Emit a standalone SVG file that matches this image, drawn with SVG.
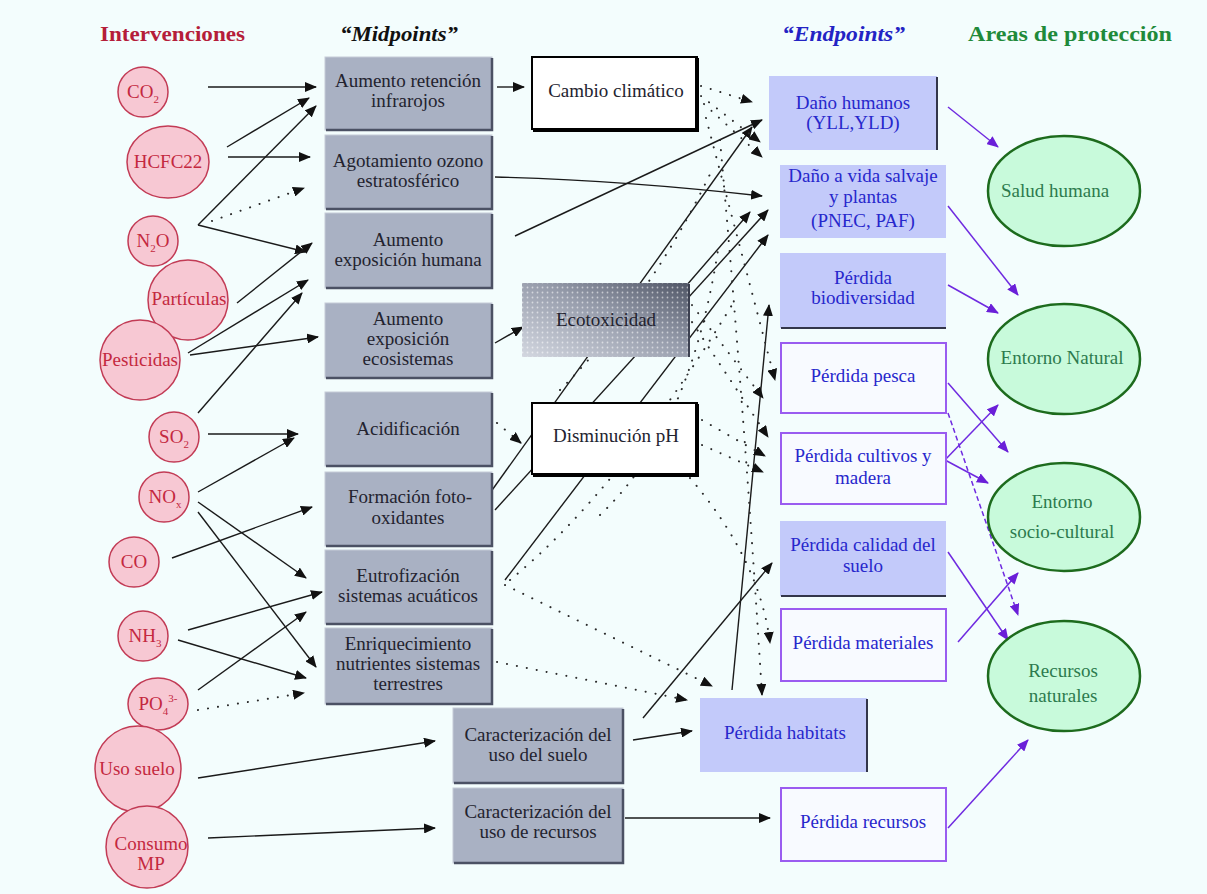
<svg xmlns="http://www.w3.org/2000/svg" width="1207" height="894" viewBox="0 0 1207 894">
<style>
  .hdr { font-family: "Liberation Serif", serif; font-weight: bold; font-size: 20px; }
  .t { font-family: "Liberation Serif", "Times New Roman", serif; font-size: 19px; text-anchor: middle; }
  .mid { fill: #23232f; }
  .end { fill: #2727cc; }
  .inp { fill: #c4283f; }
  .area { fill: #2d7a4e; }
  .sub { font-size: 11px; }
  .circ { fill: #f7c8d3; stroke: #c23b55; stroke-width: 1.5; }
  .mbox { fill: #a9b1c3; stroke: #c6ccd8; stroke-width: 1; }
  .shadow { fill: none; stroke: #4b5164; stroke-width: 2.5; }
  .wbox { fill: #ffffff; stroke: #000; stroke-width: 2; }
  .wshadow { fill: none; stroke: #000; stroke-width: 4; }
  .lav { fill: #c3cafa; }
  .pbox { fill: #f8faff; stroke: #9a5cf0; stroke-width: 2; }
  .edge { fill: none; stroke: #33364a; stroke-width: 2; }
  .ell { fill: #c8fadb; stroke: #1d6b1d; stroke-width: 2.5; }
  .c { fill: none; stroke: #1a1a1a; stroke-width: 1.4; marker-end: url(#ah); }
  .d { fill: none; stroke: #2a2a2a; stroke-width: 2; stroke-dasharray: 0.1 10; stroke-linecap: round; marker-end: url(#ah); }
  .dn { fill: none; stroke: #2a2a2a; stroke-width: 2; stroke-dasharray: 0.1 10; stroke-linecap: round; }
  .p { fill: none; stroke: #6f2ae0; stroke-width: 1.5; marker-end: url(#ap); }
  .pd { fill: none; stroke: #6f2ae0; stroke-width: 1.5; stroke-dasharray: 5 3; marker-end: url(#ap); }
</style>
<defs>
  <marker id="ah" viewBox="0 0 12 10" refX="11" refY="5" markerWidth="12" markerHeight="10" markerUnits="userSpaceOnUse" orient="auto">
    <path d="M0,0 L12,5 L0,10 z" fill="#111"/>
  </marker>
  <marker id="ap" viewBox="0 0 12 10" refX="11" refY="5" markerWidth="12" markerHeight="10" markerUnits="userSpaceOnUse" orient="auto">
    <path d="M0,0 L12,5 L0,10 z" fill="#6a1fd8"/>
  </marker>
  <linearGradient id="ecoGrad" x1="0" y1="1" x2="1" y2="0">
    <stop offset="0" stop-color="#d3d7e0"/>
    <stop offset="0.55" stop-color="#969cab"/>
    <stop offset="1" stop-color="#505666"/>
  </linearGradient>
  <pattern id="ecoDots" width="5" height="5" patternUnits="userSpaceOnUse">
    <circle cx="2.5" cy="2.5" r="0.9" fill="#ffffff" opacity="0.55"/>
  </pattern>
</defs>

<rect x="0" y="0" width="1207" height="894" fill="#f3fdfd"/>

<!-- column headings -->
<g id="headers">
  <text class="hdr" x="100" y="41" fill="#b51d3a" textLength="145" lengthAdjust="spacingAndGlyphs">Intervenciones</text>
  <text class="hdr" x="340" y="41" fill="#111" font-style="italic" textLength="118" lengthAdjust="spacingAndGlyphs">“Midpoints”</text>
  <text class="hdr" x="782" y="41" fill="#2323c4" font-style="italic" textLength="123" lengthAdjust="spacingAndGlyphs">“Endpoints”</text>
  <text class="hdr" x="968" y="41" fill="#1f8a3a" textLength="204" lengthAdjust="spacingAndGlyphs">Areas de  protección</text>
</g>

<!-- connectors (drawn under the boxes) -->
<g id="connectors">
  <!-- interventions to midpoints -->
  <path class="c" d="M208,87 L316,87"/>
  <path class="c" d="M227,147 L309,98"/>
  <path class="c" d="M228,157 L310,157"/>
  <path class="c" d="M198,225 L316,106"/>
  <path class="d" d="M212,221 L304,188"/>
  <path class="c" d="M198,225 L306,252"/>
  <path class="c" d="M237,303 L312,243"/>
  <path class="c" d="M188,353 L308,280"/>
  <path class="c" d="M198,413 L302,293"/>
  <path class="c" d="M190,355 L318,337"/>
  <path class="c" d="M208,434 L298,434"/>
  <path class="c" d="M198,492 L294,438"/>
  <path class="c" d="M172,558 L312,507"/>
  <path class="c" d="M198,502 L306,578"/>
  <path class="c" d="M198,512 L316,667"/>
  <path class="c" d="M188,630 L322,592"/>
  <path class="c" d="M178,640 L306,678"/>
  <path class="c" d="M198,690 L306,612"/>
  <path class="d" d="M198,710 L304,693"/>
  <path class="c" d="M198,778 L435,741"/>
  <path class="c" d="M208,838 L435,828"/>

  <!-- midpoints to endpoints -->
  <path class="c" d="M497,87 L524,87"/>
  <path class="c" d="M495,177 Q620,180 762,196"/>
  <path class="c" d="M515,236 L762,120"/>
  <path class="c" d="M495,343 L523,327"/>
  <path class="d" d="M497,423 L521,443"/>
  <path class="c" d="M485,500 L752,127"/>
  <path class="c" d="M495,510 L768,210"/>
  <path class="c" d="M505,580 L768,235"/>
  <path class="c" d="M686,286 L750,212"/>
  <path class="c" d="M643,718 L772,563"/>
  <path class="c" d="M633,740 L692,731"/>
  <path class="c" d="M625,818 L770,818"/>
  <path class="c" d="M732,690 L769,305"/>

  <!-- dotted links -->
  <path class="d" d="M701,86 L752,102"/>
  <path class="d" d="M701,96 L760,142"/>
  <path class="d" d="M704,104 L762,157"/>
  <path class="d" d="M706,118 L775,380"/>
  <path class="d" d="M692,305 L763,398"/>
  <path class="d" d="M692,322 L768,437"/>
  <path class="d" d="M702,420 L765,456"/>
  <path class="d" d="M702,445 L763,472"/>
  <path class="d" d="M720,140 Q745,420 762,695"/>
  <path class="d" d="M690,478 Q760,560 770,643"/>
  <path class="d" d="M505,585 L712,686"/>
  <path class="d" d="M497,662 L687,700"/>
  <path class="dn" d="M510,580 Q620,490 735,300"/>
  <path class="dn" d="M560,390 Q650,300 712,170"/>
  <path class="dn" d="M600,515 Q690,430 718,250"/>

  <!-- endpoints to areas of protection -->
  <path class="p" d="M948,107 L998,147"/>
  <path class="p" d="M948,206 L1018,295"/>
  <path class="p" d="M948,285 L998,313"/>
  <path class="p" d="M948,383 L1008,452"/>
  <path class="pd" d="M948,413 L1018,615"/>
  <path class="p" d="M943,462 L998,405"/>
  <path class="p" d="M945,460 L988,483"/>
  <path class="p" d="M948,552 L1008,640"/>
  <path class="p" d="M958,642 L1018,573"/>
  <path class="p" d="M948,828 L1028,740"/>
</g>

<!-- interventions -->
<g id="n-co2"><circle class="circ" cx="143" cy="92" r="25"/><text class="t inp" x="143" y="98">CO<tspan class="sub" dy="5">2</tspan></text></g>
<g id="n-hcfc22"><ellipse class="circ" cx="168" cy="162" rx="41" ry="36"/><text class="t inp" x="168" y="168">HCFC22</text></g>
<g id="n-n2o"><circle class="circ" cx="153" cy="241" r="25"/><text class="t inp" x="153" y="247">N<tspan class="sub" dy="5">2</tspan><tspan dy="-5">O</tspan></text></g>
<g id="n-particulas"><circle class="circ" cx="188" cy="300" r="40"/><text class="t inp" x="189" y="305">Partículas</text></g>
<g id="n-pesticidas"><circle class="circ" cx="140" cy="360" r="40"/><text class="t inp" x="140" y="366">Pesticidas</text></g>
<g id="n-so2"><circle class="circ" cx="174" cy="437" r="25"/><text class="t inp" x="174" y="443">SO<tspan class="sub" dy="5">2</tspan></text></g>
<g id="n-nox"><circle class="circ" cx="164" cy="497" r="25"/><text class="t inp" x="165" y="503">NO<tspan class="sub" dy="5">x</tspan></text></g>
<g id="n-co"><circle class="circ" cx="134" cy="562" r="25"/><text class="t inp" x="134" y="568">CO</text></g>
<g id="n-nh3"><circle class="circ" cx="143" cy="636" r="25"/><text class="t inp" x="145" y="642">NH<tspan class="sub" dy="5">3</tspan></text></g>
<g id="n-po4"><ellipse class="circ" cx="158" cy="704" rx="30" ry="26"/><text class="t inp" x="158" y="710">PO<tspan class="sub" dy="5">4</tspan><tspan class="sub" dy="-13">3-</tspan></text></g>
<g id="n-uso-suelo"><circle class="circ" cx="138" cy="769" r="43"/><text class="t inp" x="137" y="775">Uso suelo</text></g>
<g id="n-consumo-mp"><circle class="circ" cx="147" cy="847" r="41"/><text class="t inp" x="151" y="850">Consumo<tspan x="151" dy="20">MP</tspan></text></g>

<!-- midpoints -->
<g id="m-infrarojos"><rect class="mbox" x="325" y="57" width="167" height="73"/><path class="shadow" d="M492,58 V130 H326"/><text class="t mid" x="408" y="87">Aumento retención<tspan x="408" dy="20">infrarojos</tspan></text></g>
<g id="m-ozono"><rect class="mbox" x="325" y="135" width="167" height="74"/><path class="shadow" d="M492,136 V209 H326"/><text class="t mid" x="408" y="167">Agotamiento ozono<tspan x="408" dy="20">estratosférico</tspan></text></g>
<g id="m-exp-humana"><rect class="mbox" x="325" y="213" width="167" height="75"/><path class="shadow" d="M492,214 V288 H326"/><text class="t mid" x="408" y="246">Aumento<tspan x="408" dy="20">exposición humana</tspan></text></g>
<g id="m-exp-ecosistemas"><rect class="mbox" x="325" y="303" width="167" height="75"/><path class="shadow" d="M492,304 V378 H326"/><text class="t mid" x="408" y="325">Aumento<tspan x="408" dy="20">exposición</tspan><tspan x="408" dy="20">ecosistemas</tspan></text></g>
<g id="m-acidificacion"><rect class="mbox" x="325" y="392" width="167" height="74"/><path class="shadow" d="M492,393 V466 H326"/><text class="t mid" x="408" y="435">Acidificación</text></g>
<g id="m-fotooxidantes"><rect class="mbox" x="325" y="472" width="167" height="74"/><path class="shadow" d="M492,473 V546 H326"/><text class="t mid" x="410" y="503">Formación foto-<tspan x="408" dy="21">oxidantes</tspan></text></g>
<g id="m-eutrofizacion"><rect class="mbox" x="325" y="550" width="167" height="74"/><path class="shadow" d="M492,551 V624 H326"/><text class="t mid" x="408" y="582">Eutrofización<tspan x="408" dy="20">sistemas acuáticos</tspan></text></g>
<g id="m-nutrientes"><rect class="mbox" x="325" y="628" width="167" height="76"/><path class="shadow" d="M492,629 V704 H326"/><text class="t mid" x="408" y="650">Enriquecimiento<tspan x="408" dy="20">nutrientes sistemas</tspan><tspan x="408" dy="20">terrestres</tspan></text></g>
<g id="m-uso-suelo"><rect class="mbox" x="453" y="708" width="170" height="75"/><path class="shadow" d="M623,709 V783 H454"/><text class="t mid" x="538" y="741">Caracterización del<tspan x="538" dy="20">uso del suelo</tspan></text></g>
<g id="m-uso-recursos"><rect class="mbox" x="453" y="788" width="170" height="75"/><path class="shadow" d="M623,789 V863 H454"/><text class="t mid" x="538" y="818">Caracterización del<tspan x="538" dy="20">uso de recursos</tspan></text></g>

<g id="m-cambio-climatico"><rect class="wbox" x="532" y="57" width="165" height="72"/><path class="wshadow" d="M697,58 V130 H533"/><text class="t mid" x="616" y="97">Cambio climático</text></g>
<g id="m-ecotoxicidad"><rect x="522" y="283" width="167" height="74" fill="url(#ecoGrad)"/><rect x="522" y="283" width="167" height="74" fill="url(#ecoDots)"/><path d="M689,284 V357" stroke="#3c4050" stroke-width="2"/><text class="t mid" x="606" y="326">Ecotoxicidad</text></g>
<g id="m-ph"><rect class="wbox" x="532" y="403" width="165" height="71"/><path class="wshadow" d="M697,404 V475 H533"/><text class="t mid" x="616" y="442">Disminución pH</text></g>

<!-- endpoints -->
<g id="e-dano-humanos"><rect class="lav" x="769" y="76" width="168" height="74"/><path class="edge" d="M937,77 V150"/><text class="t end" x="853" y="109">Daño humanos<tspan x="853" dy="20">(YLL,YLD)</tspan></text></g>
<g id="e-vida-salvaje"><rect class="lav" x="780" y="165" width="166" height="73"/><text class="t end" x="863" y="182">Daño a vida salvaje<tspan x="863" dy="21">y plantas</tspan><tspan x="863" dy="24">(PNEC, PAF)</tspan></text></g>
<g id="e-biodiversidad"><rect class="lav" x="780" y="253" width="166" height="75"/><path class="edge" d="M781,328 H946"/><text class="t end" x="863" y="284">Pérdida<tspan x="863" dy="20">biodiversidad</tspan></text></g>
<g id="e-pesca"><rect class="pbox" x="781" y="343" width="165" height="70"/><text class="t end" x="863" y="382">Pérdida pesca</text></g>
<g id="e-cultivos"><rect class="pbox" x="781" y="433" width="165" height="71"/><text class="t end" x="863" y="462">Pérdida cultivos y<tspan x="863" dy="22">madera</tspan></text></g>
<g id="e-calidad-suelo"><rect class="lav" x="780" y="521" width="166" height="75"/><path class="edge" d="M781,596 H946"/><text class="t end" x="863" y="551">Pérdida calidad del<tspan x="863" dy="21">suelo</tspan></text></g>
<g id="e-materiales"><rect class="pbox" x="781" y="609" width="165" height="72"/><text class="t end" x="863" y="649">Pérdida materiales</text></g>
<g id="e-habitats"><rect class="lav" x="700" y="698" width="167" height="74"/><path class="edge" d="M867,699 V772"/><text class="t end" x="785" y="739">Pérdida habitats</text></g>
<g id="e-recursos"><rect class="pbox" x="781" y="788" width="165" height="73"/><text class="t end" x="863" y="828">Pérdida recursos</text></g>

<!-- areas of protection -->
<g id="a-salud"><ellipse class="ell" cx="1064" cy="191" rx="76" ry="55"/><text class="t area" x="1055" y="197">Salud humana</text></g>
<g id="a-natural"><ellipse class="ell" cx="1064" cy="359" rx="76" ry="55"/><text class="t area" x="1062" y="364">Entorno Natural</text></g>
<g id="a-sociocultural"><ellipse class="ell" cx="1064" cy="517" rx="76" ry="54"/><text class="t area" x="1062" y="508">Entorno<tspan x="1062" dy="30">socio-cultural</tspan></text></g>
<g id="a-recursos"><ellipse class="ell" cx="1064" cy="676" rx="76" ry="55"/><text class="t area" x="1063" y="677">Recursos<tspan x="1063" dy="25">naturales</tspan></text></g>
</svg>
